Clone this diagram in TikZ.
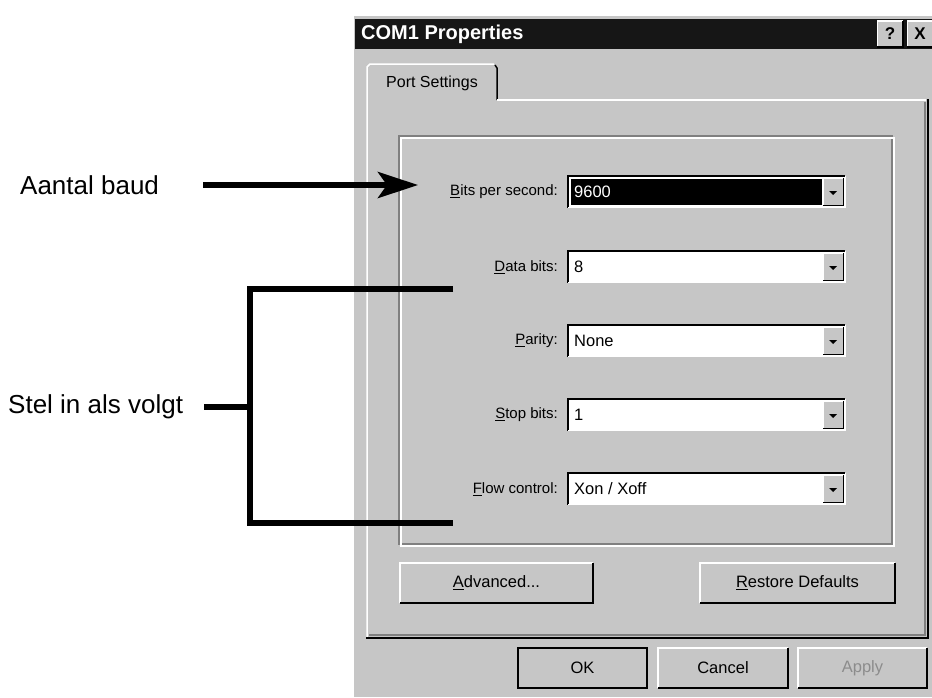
\documentclass[tikz,border=0pt]{standalone}
\usepackage{fontspec}
\setmainfont{Liberation Sans}
\usetikzlibrary{arrows.meta,positioning}
\definecolor{wingray}{HTML}{C6C6C6}
\definecolor{winshade}{HTML}{808080}
\definecolor{wintitle}{HTML}{161616}
\definecolor{windim}{HTML}{8C8C8C}
\begin{document}
\begin{tikzpicture}[x=1pt, y=-1pt, line join=miter, >=Stealth,
	note/.style={font=\fontsize{26}{28}\selectfont, inner sep=0pt},
	lbl/.style={font=\fontsize{15}{17}\selectfont, inner sep=0pt, anchor=east},
	val/.style={font=\fontsize{16.5}{18}\selectfont, inner sep=0pt, anchor=west},
	combo/.style={fill=white, minimum width=277pt, minimum height=31pt, inner sep=0pt, anchor=west},
	dropbtn/.style={fill=wingray, minimum width=20pt, minimum height=27pt, inner sep=0pt, anchor=east},
	btn/.style={fill=wingray, inner sep=0pt, minimum height=40pt, font=\fontsize{16.5}{18}\selectfont},
	pointer/.style={line width=6pt, -{Stealth[length=40pt, width=26pt, inset=9pt]}},
	bracket/.style={line width=6pt},
	]
	\def\W{932}\def\H{697}
	\useasboundingbox (0,0) rectangle (\W,\H);
	\clip (0,0) rectangle (\W,\H);
	
	% dialog window and title bar
	\fill[wingray] (352,14) rectangle (\W,\H);
	\draw[white, line width=1.5pt] (353,\H) -- (353,15) -- (\W,15);
	\fill[wintitle] (355,19) rectangle (\W,49);
	\node[anchor=west, text=white, inner sep=0pt, font=\bfseries\fontsize{20}{22}\selectfont] (title) at (361,34) {COM1 Properties};
	\node[btn, minimum width=25pt, minimum height=26pt, font=\bfseries\fontsize{17}{17}\selectfont] (help) at (890,34) {?};
	\node[btn, minimum width=25pt, minimum height=26pt, font=\bfseries\fontsize{17}{17}\selectfont] (close) at (920,34) {X};
	
	% tab and tab page
	\draw[white, line width=1.5pt] (367,638) -- (367,67) -- (370,64) -- (494,64);
	\draw[black, line width=1.5pt] (495,65) -- (497,68) -- (497,100);
	\node[font=\fontsize{16}{18}\selectfont, inner sep=0pt] (tab) at (432,83) {Port Settings};
	\draw[white, line width=1.5pt] (497,100) -- (926,100);
	\draw[winshade, line width=1.2pt] (925,102) -- (925,635) -- (369,635);
	\draw[black, line width=2pt] (928,99) -- (928,638) -- (366,638);
	
	% group box
	\draw[winshade, line width=1.2pt] (399,136) rectangle (892,544);
	\draw[white, line width=1.2pt] (401,138) rectangle (894,546);
	
	% settings
	\foreach \name/\lab/\val/\yy/\bg/\fg in {
		bps/{\underline{B}its per second:}/9600/192/black/white,
		data/{\underline{D}ata bits:}/8/267/white/black,
		parity/{\underline{P}arity:}/None/341/white/black,
		stop/{\underline{S}top bits:}/1/415/white/black,
		flow/{\underline{F}low control:}/{Xon / Xoff}/489/white/black}{
		\node[combo] (\name) at (568,\yy) {};
		\fill[\bg] ([shift={(3,3)}]\name.north west) rectangle ([shift={(-23,-3)}]\name.south east);
		\draw[black, line width=2pt] (\name.south west) |- (\name.north east);
		\draw[white, line width=1.5pt] (\name.south west) -| (\name.north east);
		\node[lbl] (\name-lbl) at ([xshift=-10pt]\name.west) {\lab};
		\node[val, text=\fg] (\name-val) at ([xshift=6pt]\name.west) {\val};
		\node[dropbtn] (\name-btn) at ([xshift=-2pt]\name.east) {};
		\draw[white, line width=1pt] (\name-btn.south west) |- (\name-btn.north east);
		\draw[black, line width=1.5pt] (\name-btn.south west) -| (\name-btn.north east);
		\fill ([shift={(-4,-1)}]\name-btn.center) -- ++(8,0) -- ++(-4,4) -- cycle;
	}
	
	% buttons
	\node[btn, minimum width=193pt] (adv) at (496.5,583) {\underline{A}dvanced...};
	\node[btn, minimum width=195pt] (restore) at (797.5,583) {\underline{R}estore Defaults};
	\node[btn, minimum width=129pt] (ok) at (582.5,668) {OK};
	\node[btn, minimum width=130pt] (cancel) at (723,668) {Cancel};
	\node[btn, minimum width=129pt, text=windim] (apply) at (862.5,668) {Apply};
	\foreach \b in {help,close,adv,restore,ok,cancel,apply}{
		\draw[white, line width=1.5pt] (\b.south west) |- (\b.north east);
		\draw[black, line width=2pt] (\b.south west) -| (\b.north east);
	}
	\draw[black, line width=1.5pt] (ok.south west) rectangle (ok.north east);
	
	% annotations
	\node[note, anchor=west] (baud) at (20,185) {Aantal baud};
	\coordinate (bps-tip) at (418,185);
	\draw[pointer] ([xshift=44pt]baud.east) -- (bps-tip);
	
	\node[note, anchor=west] (stel) at (8,407) {Stel in als volgt};
	\coordinate (brk) at (250,0);
	\coordinate (set-top) at (453,289);
	\coordinate (set-bot) at (453,523);
	\draw[bracket] ([xshift=21pt]stel.east) -- (stel.east -| brk);
	\draw[bracket] (set-top) -- (set-top -| brk) -- (set-bot -| brk) -- (set-bot);
\end{tikzpicture}
\end{document}
